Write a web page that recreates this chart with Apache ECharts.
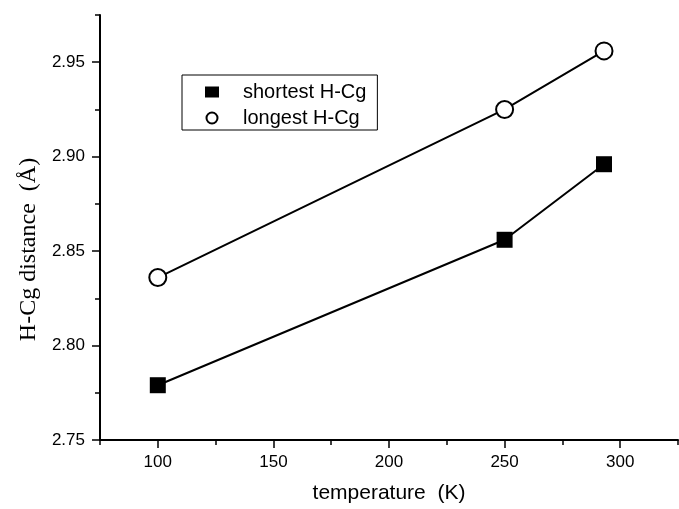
<!DOCTYPE html>
<html>
<head>
<meta charset="utf-8">
<script src="https://cdn.jsdelivr.net/npm/echarts@6/dist/echarts.min.js"></script>
<style>html,body{margin:0;padding:0;background:#fff;}#c{width:679px;height:509px;}</style>
</head>
<body>
<div id="c"></div>
<script>
const temperature = [100, 250, 293];
const shortestHCg = [2.779, 2.856, 2.896];
const longestHCg = [2.836, 2.925, 2.956];
const xMajorTicks = [100, 150, 200, 250, 300];
const xMinorTicks = [75, 125, 175, 225, 275, 325];
const yMajorTicks = [2.75, 2.80, 2.85, 2.90, 2.95];
const yMinorTicks = [2.775, 2.825, 2.875, 2.925, 2.975];
const seriesNames = ['shortest H-Cg', 'longest H-Cg'];

const sans = "'Liberation Sans', Arial, sans-serif";
const serif = "'Liberation Serif', 'Times New Roman', serif";

const chart = echarts.init(document.getElementById('c'), null, {renderer: 'canvas'});
chart.setOption({
  animation: false,
  backgroundColor: '#fff',
  grid: {left: 100, right: 1, top: 15, bottom: 66, containLabel: false},
  legend: {
    orient: 'vertical',
    left: 182, top: 75,
    padding: [7, 11, 2, 23],
    borderColor: '#000', borderWidth: 1,
    itemWidth: 14, itemHeight: 11, itemGap: 6,
    textStyle: {fontFamily: sans, fontSize: 20, color: '#000', padding: [0, 0, 0, 19]},
    data: [
      {name: seriesNames[0], icon: 'rect', itemStyle: {color: '#000', borderWidth: 0}},
      {name: seriesNames[1], icon: 'circle', itemStyle: {color: '#fff', borderColor: '#000', borderWidth: 2}}
    ]
  },
  xAxis: [{
    type: 'value', min: 75, max: 325,
    name: 'temperature  (K)', nameLocation: 'middle', nameGap: 43,
    nameTextStyle: {fontFamily: sans, fontSize: 21, color: '#000'},
    axisLine: {show: true, lineStyle: {color: '#000', width: 2}},
    axisTick: {show: true, inside: false, length: 8, lineStyle: {color: '#000', width: 1.5}, customValues: xMajorTicks},
    axisLabel: {fontFamily: sans, fontSize: 17, color: '#000', margin: 14, customValues: xMajorTicks},
    splitLine: {show: false}
  }, {
    type: 'value', min: 75, max: 325, position: 'bottom',
    axisLine: {show: false},
    axisTick: {show: true, length: 5, lineStyle: {color: '#000', width: 1.5}, customValues: xMinorTicks},
    axisLabel: {show: false},
    splitLine: {show: false}
  }],
  yAxis: [{
    type: 'value', min: 2.75, max: 2.975,
    name: 'H-Cg distance  (Å)', nameLocation: 'middle', nameGap: 58,
    nameTextStyle: {fontFamily: serif, fontSize: 24, color: '#000', padding: [0, 44, 0, 0]},
    axisLine: {show: true, lineStyle: {color: '#000', width: 2}},
    axisTick: {show: true, length: 8, lineStyle: {color: '#000', width: 1.5}, customValues: yMajorTicks},
    axisLabel: {fontFamily: sans, fontSize: 17, color: '#000', margin: 15,
      formatter: v => v.toFixed(2), customValues: yMajorTicks},
    splitLine: {show: false}
  }, {
    type: 'value', min: 2.75, max: 2.975, position: 'left',
    axisLine: {show: false},
    axisTick: {show: true, length: 5, lineStyle: {color: '#000', width: 1.5}, customValues: yMinorTicks},
    axisLabel: {show: false},
    splitLine: {show: false}
  }],
  series: [{
    name: seriesNames[0], type: 'line',
    data: temperature.map((t, i) => [t, shortestHCg[i]]),
    symbol: 'rect', symbolSize: 16,
    itemStyle: {color: '#000'},
    lineStyle: {color: '#000', width: 2}
  }, {
    name: seriesNames[1], type: 'line',
    data: temperature.map((t, i) => [t, longestHCg[i]]),
    symbol: 'circle', symbolSize: 17,
    itemStyle: {color: '#fff', borderColor: '#000', borderWidth: 2},
    lineStyle: {color: '#000', width: 2}
  }]
});
</script>
</body>
</html>
